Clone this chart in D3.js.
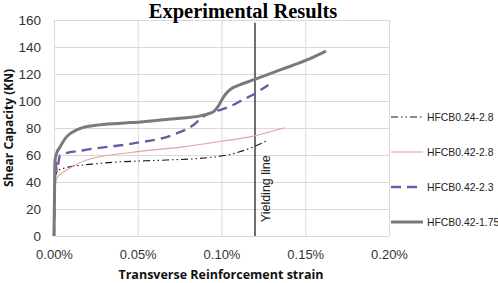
<!DOCTYPE html>
<html lang="en">
<head>
<meta charset="UTF-8">
<title>Experimental Results</title>
<script src="https://d3js.org/d3.v7.min.js"></script>
<style>
  body { margin: 0; background: #fff; }
  .tick text { font-family: "Liberation Sans", Arial, sans-serif; fill: #333; }
</style>
</head>
<body>
<div id="chart"></div>
<script>
// strain in %, shear in kN
const strainA = [0, 0.0005, 0.001, 0.003, 0.0056, 0.0275, 0.0673, 0.087, 0.107, 0.117, 0.128];
const shearA  = [0, 25, 45, 49, 50.1, 53.8, 56.3, 57.5, 61, 65, 71.1];

const strainB = [0, 0.0005, 0.001, 0.0016, 0.004, 0.0076, 0.0195, 0.047, 0.077, 0.099, 0.119, 0.1375];
const shearB  = [0, 25, 40, 42.7, 46, 48.9, 56.3, 62, 66, 70, 74, 80.2];

const strainC = [0, 0.0004, 0.0008, 0.0016, 0.0036, 0.0175, 0.0473, 0.07, 0.0832, 0.0891, 0.095, 0.099, 0.105, 0.113, 0.117, 0.128];
const shearC  = [0, 30, 57, 48, 60, 63.5, 68.6, 74.5, 82.2, 88.5, 92, 93.3, 96, 101, 103.5, 111.9];

const strainD = [0, 0.0003, 0.0006, 0.0015, 0.0036, 0.0076, 0.0135, 0.0175, 0.025, 0.04, 0.0533, 0.07, 0.0872, 0.092, 0.0955, 0.098, 0.1001, 0.102, 0.1051, 0.11, 0.119, 0.135, 0.151, 0.1624];
const shearD  = [0, 30, 56, 61, 66, 73.6, 78.5, 80.5, 82, 83.5, 84.7, 86.7, 89, 90.5, 92.3, 96, 100.7, 104.4, 108.5, 111.5, 115.6, 123, 130.4, 137];

const seriesNames = ["HFCB0.24-2.8", "HFCB0.42-2.8", "HFCB0.42-2.3", "HFCB0.42-1.75"];
const xTicks = [0, 0.05, 0.10, 0.15, 0.20];
const yTicks = [0, 20, 40, 60, 80, 100, 120, 140, 160];
const yieldStrain = 0.12;

const W = 498, H = 283;
const margin = { top: 20, right: 109, bottom: 47, left: 54 };
const width = W - margin.left - margin.right;
const height = H - margin.top - margin.bottom;

const svg = d3.select("#chart").append("svg")
  .attr("width", W)
  .attr("height", H);

const g = svg.append("g")
  .attr("transform", `translate(${margin.left},${margin.top})`);

const x = d3.scaleLinear().domain([0, 0.2]).range([0, width]);
const y = d3.scaleLinear().domain([0, 160]).range([height, 0]);

// gridlines + tick labels
const xAxis = g.append("g")
  .attr("transform", `translate(0,${height})`)
  .call(d3.axisBottom(x).tickValues(xTicks).tickSize(-height).tickPadding(14)
    .tickFormat(d => d.toFixed(2) + "%"));
xAxis.select(".domain").remove();
xAxis.selectAll("line").attr("stroke", "#d9d9d9");
xAxis.selectAll("text").style("font-size", "13px");

const yAxis = g.append("g")
  .call(d3.axisLeft(y).tickValues(yTicks).tickSize(-width).tickPadding(13));
yAxis.select(".domain").remove();
yAxis.selectAll("line").attr("stroke", "#d9d9d9");
yAxis.selectAll("text").style("font-size", "13.5px");

const styles = [
  { color: "#1a1a1a", width: 1.1, dash: "7,3,1.5,3,1.5,3" },
  { color: "#e8a1a1", width: 1.1, dash: null },
  { color: "#6e58a8", width: 2.4, dash: "10,6" },
  { color: "#7a7a7a", width: 3, dash: null }
];

const series = [
  strainA.map((s, i) => [s, shearA[i]]),
  strainB.map((s, i) => [s, shearB[i]]),
  strainC.map((s, i) => [s, shearC[i]]),
  strainD.map((s, i) => [s, shearD[i]])
];

const line = d3.line()
  .x(d => x(d[0]))
  .y(d => y(d[1]))
  .curve(d3.curveMonotoneX);

// yielding line
g.append("line")
  .attr("x1", x(yieldStrain)).attr("x2", x(yieldStrain))
  .attr("y1", y(0)).attr("y2", y(158))
  .attr("stroke", "#333")
  .attr("stroke-width", 1.4);

g.append("text")
  .attr("transform", `translate(${x(yieldStrain) + 15},${y(35)}) rotate(-90)`)
  .attr("text-anchor", "middle")
  .style("font-family", "Liberation Sans, Arial, sans-serif")
  .style("font-size", "12.5px")
  .style("fill", "#222")
  .text("Yielding line");

series.forEach((data, i) => {
  g.append("path")
    .datum(data)
    .attr("fill", "none")
    .attr("stroke", styles[i].color)
    .attr("stroke-width", styles[i].width)
    .attr("stroke-dasharray", styles[i].dash)
    .attr("d", line);
});

// legend
const legend = svg.append("g");
seriesNames.forEach((name, i) => {
  const ly = 117 + i * 35;
  legend.append("line")
    .attr("x1", 391).attr("x2", 423)
    .attr("y1", ly).attr("y2", ly)
    .attr("stroke", styles[i].color)
    .attr("stroke-width", styles[i].width)
    .attr("stroke-dasharray", styles[i].dash);
  legend.append("text")
    .attr("x", 427).attr("y", ly)
    .attr("dy", "0.35em")
    .style("font-family", "Liberation Sans, Arial, sans-serif")
    .style("font-size", "10.4px")
    .style("fill", "#222")
    .text(name);
});

// titles
svg.append("text")
  .attr("x", 243).attr("y", 18)
  .attr("text-anchor", "middle")
  .style("font-family", "Liberation Serif, serif")
  .style("font-weight", "bold")
  .style("font-size", "20.5px")
  .text("Experimental Results");

svg.append("text")
  .attr("x", 221).attr("y", 279)
  .attr("text-anchor", "middle")
  .style("font-family", "Open Sans, sans-serif")
  .style("font-weight", "bold")
  .style("font-size", "12.5px")
  .style("fill", "#111")
  .text("Transverse Reinforcement strain");

svg.append("text")
  .attr("transform", "translate(12.5,128) rotate(-90)")
  .attr("text-anchor", "middle")
  .style("font-family", "Open Sans, sans-serif")
  .style("font-weight", "bold")
  .style("font-size", "12px")
  .style("fill", "#111")
  .text("Shear Capacity (KN)");
</script>
</body>
</html>
